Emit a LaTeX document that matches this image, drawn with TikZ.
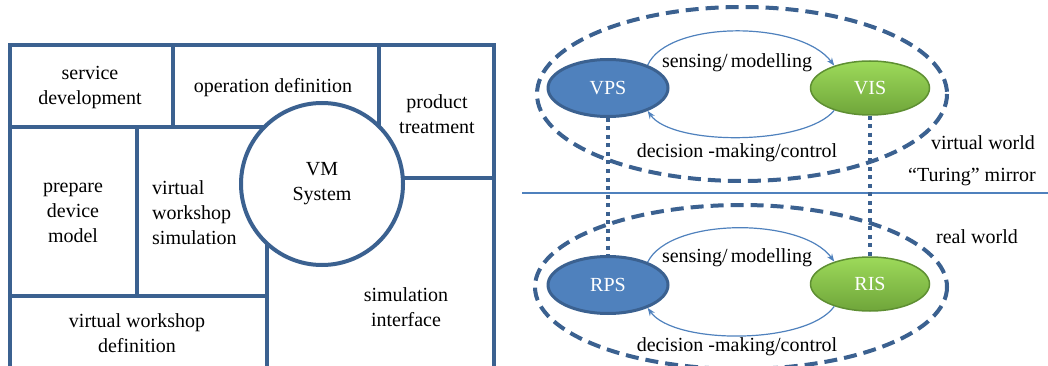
\documentclass[tikz,border=0pt]{standalone}
\usepackage{fontspec}
\setmainfont{Liberation Serif}
\usepackage{tikz}
\usetikzlibrary{shapes.geometric,arrows.meta}
\definecolor{frameblue}{HTML}{3B6190}
\definecolor{fillblue}{HTML}{4F81BD}
\definecolor{darkgreen}{HTML}{5E8F32}
\definecolor{lightgreen}{HTML}{9DDA5A}
\definecolor{midgreen}{HTML}{6FA53A}
\tikzstyle{wall}=[line width=4pt,frameblue]
\tikzstyle{cell}=[align=center,inner sep=0pt,black]
\tikzstyle{world}=[line width=4pt,frameblue,dash pattern=on 13pt off 7pt]
\tikzstyle{phys}=[draw=frameblue,line width=3pt,ellipse,fill=fillblue,text=white,minimum width=120pt,minimum height=57pt,inner sep=0pt]
\tikzstyle{info}=[draw=darkgreen,line width=1.5pt,ellipse,top color=lightgreen,bottom color=midgreen,text=white,minimum width=119pt,minimum height=54pt,inner sep=0pt]
\tikzstyle{flow}=[line width=1.2pt,fillblue,-{Stealth[length=8pt,width=6pt]}]
\tikzstyle{mirrorlink}=[line width=4.5pt,frameblue,dash pattern=on 4pt off 4.5pt]
\tikzstyle{label}=[inner sep=0pt,black]

\begin{document}
\begin{tikzpicture}[x=1pt,y=-1pt]
  \useasboundingbox (0,0) rectangle (1048,366);
  \fontsize{20}{25}\selectfont
  % left side: the VM system plan
  \draw[wall] (10,372) -- (10,45) -- (494,45) -- (494,372);
  \draw[wall] (173,45) -- (173,127);
  \draw[wall] (10,127) -- (300,127);
  \draw[wall] (379,45) -- (379,160);
  \draw[wall] (137,127) -- (137,296);
  \draw[wall] (10,296) -- (267,296);
  \draw[wall] (267,200) -- (267,372);
  \draw[wall] (330,178) -- (494,178);
  \node[circle,draw=frameblue,line width=4pt,fill=white,minimum size=162pt,inner sep=0pt,align=center] (vm) at (322,184) {VM\\System};

  \node[cell] (service) at (90,88) {service\\development};
  \node[cell] (operation) at (273,88) {operation definition};
  \node[cell] (product) at (437,114) {product\\treatment};
  \node[cell] (prepare) at (73,213) {prepare\\device\\model};
  \node[cell,align=left,anchor=west] (vwsim) at (152,213) {virtual\\workshop\\simulation};
  \node[cell] (vwdef) at (137,333) {virtual workshop\\definition};
  \node[cell] (simif) at (406,307) {simulation\\interface};

  % right side: virtual and real world
  \draw[world] (742,94) ellipse [x radius=205,y radius=87];
  \draw[world] (741,287) ellipse [x radius=206,y radius=82];
  \draw[line width=1.2pt,fillblue] (522,193) -- (1048,193);

  \node[phys] (vps) at (608,88) {VPS};
  \node[info] (vis) at (870,88) {VIS};
  \node[phys] (rps) at (608,285) {RPS};
  \node[info] (ris) at (870,284) {RIS};

  \draw[mirrorlink] (vps.south) -- (rps.north);
  \draw[mirrorlink] (vis.south) -- (ris.north);

  \draw[flow] (vps.30) .. controls (668,20) and (800,20) .. (vis.148);
  \draw[flow] (vis.212) .. controls (805,146) and (672,146) .. (vps.330);
  \draw[flow] (rps.30) .. controls (670,217) and (802,217) .. (ris.148);
  \draw[flow] (ris.212) .. controls (807,345) and (674,345) .. (rps.330);

  \node[label] (sense1) at (737,63) {sensing/\,modelling};
  \node[label] (decide1) at (737,153) {decision -making/control};
  \node[label] (sense2) at (737,258) {sensing/\,modelling};
  \node[label] (decide2) at (737,347) {decision -making/control};

  \node[label] (virtual) at (983,143) {virtual world};
  \node[label] (turing) at (972,177) {“Turing\char"22\ mirror};
  \node[label] (real) at (977,237) {real world};
\end{tikzpicture}
\end{document}
